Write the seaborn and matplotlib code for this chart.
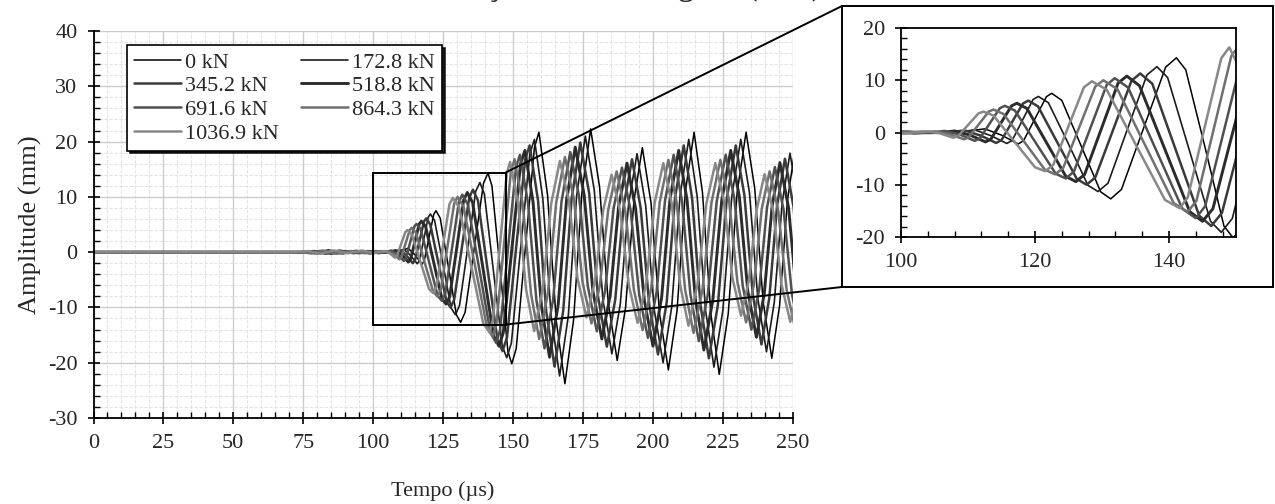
import pandas as pd
import matplotlib
matplotlib.use("Agg")
import matplotlib.pyplot as plt
from matplotlib.patches import Rectangle, ConnectionPatch
from matplotlib.ticker import MultipleLocator
import seaborn as sns

# Sinais (tempo em µs, amplitude em mm)
tempo_0 = [0, 78, 83, 87, 92, 97, 102, 106, 109, 112.5, 115.0, 117.5, 118.3, 120.0, 121.7, 122.5,
           124.0, 126.9, 129.8, 131.3, 132.9, 136.2, 139.5, 141.1, 142.5, 145.4, 148.2, 149.6,
           151.2, 154.45, 157.7, 159.3,
           162.4, 165.5, 168.6, 171.7, 174.7, 177.8, 181.0, 184.1, 187.3, 190.3, 193.3, 196.3,
           199.4, 202.5, 205.6, 208.7, 211.7, 214.8, 217.8, 220.8, 223.8, 227.0, 230.2, 233.4,
           236.5, 239.5, 242.6, 245.4, 248.2, 251.0, 254.1, 257.1]
amp_0 = [0, 0, 0.2, -0.2, 0.2, -0.1, 0.1, -0.1, 0.1, 0.7, -0.5, -2.2, -1.55, 2.65, 6.85, 7.5,
         6.15, -2.6, -11.35, -12.7, -10.9, 0.8, 12.5, 14.3, 12.0, -2.95, -17.9, -20.2,
         -17.4, 0.75, 18.9, 21.7,
         10.3, -12.4, -23.8, -12.3, 10.8, 22.3, 11.8, -9.1, -19.6, -10.0, 9.3, 18.9,
         8.9, -11.3, -21.3, -10.6, 11.0, 21.7, 10.8, -11.2, -22.1, -11.2, 10.8, 21.7,
         11.5, -9.0, -19.2, -9.6, 9.4, 19.0, 8.9, -11.0]

tempo_1 = [0, 77, 82, 86, 91, 96, 101, 105, 108, 111.0, 113.4, 115.8, 116.6, 118.15, 119.7, 120.5,
           122.0, 125.0, 127.9, 129.4, 130.9, 133.8, 136.7, 138.2, 139.8, 143.0, 146.2, 147.8,
           149.45, 152.75, 156.05, 157.7,
           160.7, 163.7, 166.7, 169.8, 172.8, 175.9, 179.1, 182.2, 185.4, 188.4, 191.4, 194.4,
           197.5, 200.6, 203.7, 206.8, 209.8, 212.9, 215.9, 218.9, 221.9, 225.1, 228.3, 231.5,
           234.6, 237.6, 240.7, 243.5, 246.3, 249.1, 252.2, 255.2]
amp_1 = [0, 0, -0.2, 0.2, -0.2, 0.2, -0.1, 0.1, 0.0, 0.5, -0.6, -2.1, -1.5, 2.4, 6.3, 6.9,
         5.7, -2.2, -10.1, -11.3, -9.7, 0.65, 11.0, 12.6, 10.5, -3.25, -17.0, -19.1,
         -16.45, 0.65, 17.75, 20.4,
         9.7, -11.7, -22.4, -11.6, 10.2, 21.0, 11.2, -8.6, -18.4, -9.4, 8.8, 17.8,
         8.4, -10.6, -20.0, -9.9, 10.3, 20.4, 10.1, -10.5, -20.8, -10.5, 10.1, 20.4,
         10.8, -8.4, -18.0, -9.0, 8.9, 17.9, 8.7, -9.8]

tempo_2 = [0, 76, 81, 85, 90, 95, 100, 104, 107, 109.5, 111.9, 114.2, 115.0, 116.6, 118.2, 119.0,
           120.45, 123.35, 126.25, 127.7, 129.0, 131.7, 134.4, 135.7, 137.5, 141.0, 144.5, 146.3,
           147.9, 151.15, 154.4, 156.0,
           159.0, 161.9, 164.9, 168.0, 171.0, 174.1, 177.3, 180.4, 183.6, 186.6, 189.6, 192.6,
           195.7, 198.8, 201.9, 205.0, 208.0, 211.1, 214.1, 217.1, 220.1, 223.3, 226.5, 229.7,
           232.8, 235.8, 238.9, 241.7, 244.5, 247.3, 250.4, 253.4]
amp_2 = [0, 0, 0.2, -0.3, 0.2, -0.2, 0.2, -0.1, 0.0, 0.4, -0.6, -2.0, -1.45, 2.05, 5.55, 6.1,
         5.0, -1.95, -8.9, -10.0, -8.6, 0.65, 9.9, 11.3, 9.35, -3.3, -15.9, -17.9,
         -15.4, 0.7, 16.8, 19.3,
         9.3, -10.7, -20.7, -10.6, 9.7, 19.8, 10.6, -7.9, -17.1, -8.6, 8.3, 16.8,
         8.0, -9.7, -18.5, -9.1, 9.9, 19.3, 9.7, -9.6, -19.2, -9.6, 9.7, 19.3,
         10.3, -7.7, -16.7, -8.3, 8.5, 16.9, 8.1, -9.5]

tempo_3 = [0, 75, 80, 84, 89, 94, 99, 103, 106, 108.0, 110.3, 112.6, 113.4, 114.95, 116.5, 117.3,
           118.8, 121.7, 124.6, 126.1, 127.4, 129.9, 132.4, 133.7, 135.6, 139.35, 143.1, 145.0,
           146.55, 149.65, 152.75, 154.3,
           157.2, 160.2, 163.1, 166.2, 169.2, 172.3, 175.5, 178.6, 181.8, 184.8, 187.8, 190.8,
           193.9, 197.0, 200.1, 203.2, 206.2, 209.3, 212.3, 215.3, 218.3, 221.5, 224.7, 227.9,
           231.0, 234.0, 237.1, 239.9, 242.7, 245.5, 248.6, 251.6]
amp_3 = [0, 0, -0.2, 0.3, -0.2, 0.2, -0.2, 0.1, 0.0, 0.3, -0.5, -1.8, -1.3, 1.9, 5.1, 5.6,
         4.6, -1.9, -8.4, -9.4, -8.05, 0.7, 9.45, 10.8, 8.95, -3.1, -15.15, -17.0,
         -14.6, 0.7, 16.0, 18.4,
         9.1, -9.7, -19.0, -9.5, 9.5, 19.0, 10.3, -7.0, -15.7, -7.8, 8.2, 16.1,
         7.8, -8.7, -17.0, -8.2, 9.6, 18.4, 9.4, -8.7, -17.7, -8.7, 9.4, 18.4,
         10.0, -7.0, -15.4, -7.5, 8.3, 16.2, 8.0, -8.6]

tempo_4 = [0, 74, 79, 83, 88, 93, 98, 102, 104.5, 106.5, 108.8, 111.0, 111.75, 113.25, 114.75, 115.5,
           117.0, 120.05, 123.1, 124.6, 125.8, 128.25, 130.7, 131.9, 133.9, 137.95, 142.0, 144.0,
           145.4, 148.25, 151.1, 152.5,
           155.4, 158.4, 161.3, 164.4, 167.4, 170.5, 173.7, 176.8, 180.0, 183.0, 186.0, 189.0,
           192.1, 195.2, 198.3, 201.4, 204.4, 207.5, 210.5, 213.5, 216.5, 219.7, 222.9, 226.1,
           229.2, 232.2, 235.3, 238.1, 240.9, 243.7, 246.8, 249.8, 252.9]
amp_4 = [0, 0, 0.2, -0.3, 0.3, -0.2, 0.2, -0.2, 0.0, 0.3, -0.4, -1.6, -1.15, 1.75, 4.65, 5.1,
         4.2, -1.85, -7.9, -8.8, -7.5, 0.8, 9.1, 10.4, 8.6, -3.0, -14.6, -16.4,
         -14.1, 0.6, 15.3, 17.6,
         8.9, -8.7, -17.4, -8.5, 9.2, 18.1, 10.0, -6.2, -14.3, -6.9, 7.9, 15.3,
         7.6, -7.8, -15.5, -7.2, 9.3, 17.6, 9.2, -7.7, -16.1, -7.7, 9.2, 17.6,
         9.7, -6.1, -14.0, -6.7, 8.1, 15.4, 7.7, -7.6, -15.3]

tempo_5 = [0, 73, 78, 82, 87, 92, 97, 101, 103, 105.0, 107.2, 109.4, 110.1, 111.6, 113.1, 113.8,
           115.3, 118.4, 121.5, 123.0, 124.2, 126.6, 129.0, 130.2, 132.3, 136.5, 140.7, 142.8,
           144.1, 146.7, 149.3, 150.6,
           153.5, 156.5, 159.4, 162.5, 165.5, 168.6, 171.8, 174.9, 178.1, 181.1, 184.1, 187.1,
           190.2, 193.3, 196.4, 199.5, 202.5, 205.6, 208.6, 211.6, 214.6, 217.8, 221.0, 224.2,
           227.3, 230.3, 233.4, 236.2, 239.0, 241.8, 244.9, 247.9, 251.0]
amp_5 = [0, 0, -0.2, 0.3, -0.3, 0.2, -0.2, 0.2, 0.0, 0.2, -0.3, -1.3, -0.9, 1.55, 4.0, 4.4,
         3.55, -1.8, -7.15, -8.0, -6.8, 1.0, 8.8, 10.0, 8.3, -2.6, -13.5, -15.2,
         -13.05, 0.8, 14.65, 16.8,
         8.7, -7.6, -15.7, -7.5, 9.0, 17.2, 9.7, -5.4, -12.9, -6.0, 7.7, 14.6,
         7.4, -6.9, -14.1, -6.4, 9.0, 16.7, 8.9, -6.8, -14.6, -6.8, 8.9, 16.7,
         9.4, -5.4, -12.7, -5.9, 7.8, 14.6, 7.5, -6.8, -13.9]

tempo_6 = [0, 72, 77, 81, 86, 91, 96, 100, 102, 104.0, 105.9, 107.8, 108.55, 110.05, 111.55, 112.3,
           113.8, 116.9, 120.0, 121.5, 122.7, 125.0, 127.3, 128.5, 130.7, 135.05, 139.4, 141.6,
           142.8, 145.3, 147.8, 149.0,
           151.9, 154.7, 157.6, 160.7, 163.7, 166.8, 170.0, 173.1, 176.3, 179.3, 182.3, 185.3,
           188.4, 191.5, 194.6, 197.7, 200.7, 203.8, 206.8, 209.8, 212.8, 216.0, 219.2, 222.4,
           225.5, 228.5, 231.6, 234.4, 237.2, 240.0, 243.1, 246.1, 249.2, 252.3]
amp_6 = [0, 0, 0.2, -0.3, 0.3, -0.2, 0.3, -0.2, 0.0, 0.2, -0.2, -1.0, -0.65, 1.5, 3.65, 4.0,
         3.25, -1.7, -6.65, -7.4, -6.25, 1.2, 8.65, 9.8, 8.2, -2.35, -12.9, -14.5,
         -12.4, 0.9, 14.2, 16.3,
         8.7, -6.7, -14.3, -6.6, 8.8, 16.5, 9.4, -4.7, -11.8, -5.4, 7.6, 14.0,
         7.3, -6.1, -12.8, -5.6, 8.9, 16.1, 8.8, -5.9, -13.3, -5.9, 8.8, 16.1,
         9.2, -4.6, -11.5, -5.1, 7.7, 14.1, 7.4, -5.9, -12.6, -6.0]

cargas = ["0 kN", "172.8 kN", "345.2 kN", "518.8 kN", "691.6 kN", "864.3 kN", "1036.9 kN"]
tempos = [tempo_0, tempo_1, tempo_2, tempo_3, tempo_4, tempo_5, tempo_6]
amplitudes = [amp_0, amp_1, amp_2, amp_3, amp_4, amp_5, amp_6]

cores = ["#000000", "#1c1c1c", "#3a3a3a", "#2b2b2b", "#505050", "#707070", "#888888"]
larguras = [1.1, 1.2, 1.8, 2.1, 1.8, 1.8, 1.8]

# tabela longa para o seaborn
frames = []
for nome, t, a in zip(cargas, tempos, amplitudes):
    frames.append(pd.DataFrame({"carga": nome, "tempo": t, "amplitude": a}))
df = pd.concat(frames, ignore_index=True)

sns.set_theme(style="white")
plt.rcParams["font.family"] = ["Liberation Serif", "DejaVu Serif"]
plt.rcParams["axes.unicode_minus"] = False

W, H = 1275, 504
fig = plt.figure(figsize=(W / 100, H / 100), dpi=100)
fig.patch.set_facecolor("white")


def desenha_sinais(eixo):
    for i, nome in enumerate(cargas):
        sns.lineplot(data=df[df["carga"] == nome], x="tempo", y="amplitude", color=cores[i],
                     lw=larguras[i], sort=False, estimator=None, legend=False, ax=eixo)


def estilo_ticks(eixo):
    eixo.tick_params(which="major", direction="inout", length=9, width=1.2, color="black",
                     labelsize=16, pad=7, left=True, bottom=True)
    eixo.tick_params(which="minor", direction="in", length=4.5, width=1.0, color="black",
                     left=True, bottom=True)


# eixo principal
ax = fig.add_axes([93.5 / W, 86 / H, 699 / W, 387 / H])
desenha_sinais(ax)
ax.set_xlim(0, 250)
ax.set_ylim(-30, 40)
ax.xaxis.set_major_locator(MultipleLocator(25))
ax.xaxis.set_minor_locator(MultipleLocator(5))
ax.yaxis.set_major_locator(MultipleLocator(10))
ax.yaxis.set_minor_locator(MultipleLocator(2))
ax.set_axisbelow(True)
ax.grid(which="major", color="#cccccc", lw=1.0)
ax.grid(which="minor", color="#e3e3e3", lw=0.8, ls=(0, (3, 1.5)))
for s in ["top", "right"]:
    ax.spines[s].set_visible(False)
for s in ["left", "bottom"]:
    ax.spines[s].set_color("black")
    ax.spines[s].set_linewidth(1.3)
estilo_ticks(ax)
ax.set_xlabel("Tempo (µs)", fontsize=16)
ax.set_ylabel("Amplitude (mm)", fontsize=19)
ax.xaxis.set_label_coords(0.5, -0.163)
ax.yaxis.set_label_coords(-0.074, 0.5)

# legenda (preenchida por linhas)
linhas = ax.get_lines()[:7]
ordem = [0, 2, 4, 6, 1, 3, 5]
leg = ax.legend([linhas[i] for i in ordem], [cargas[i] for i in ordem], loc="upper left",
                bbox_to_anchor=(0.048, 0.964), ncol=2, frameon=True, fancybox=False,
                shadow={"color": "black", "alpha": 0.85}, edgecolor="black", framealpha=1,
                fontsize=16, handlelength=2.1, handletextpad=0.2, labelspacing=0.14,
                columnspacing=1.0, borderpad=0.32, borderaxespad=0)
leg.get_frame().set_linewidth(1.2)

# retângulo da área ampliada
ax.add_patch(Rectangle((100, -13.1), 47.4, 27.5, fill=False, ec="black", lw=1.4, zorder=5))

# caixa do detalhe
fig.add_artist(Rectangle((842 / W, (H - 287) / H), (1273 - 842) / W, (287 - 6) / H,
                         transform=fig.transFigure, fill=False, ec="black", lw=1.4))
for pa, pb in [((147.4, 14.4), (842 / W, (H - 6) / H)), ((147.4, -13.1), (842 / W, (H - 287) / H))]:
    con = ConnectionPatch(xyA=pa, coordsA=ax.transData, xyB=pb, coordsB=fig.transFigure,
                          color="black", lw=1.4, zorder=6)
    fig.add_artist(con)

# detalhe 100-150 µs
axin = fig.add_axes([901 / W, (H - 237) / H, 335 / W, 209 / H])
desenha_sinais(axin)
axin.set_xlim(100, 150)
axin.set_ylim(-20, 20)
axin.xaxis.set_major_locator(MultipleLocator(20))
axin.xaxis.set_minor_locator(MultipleLocator(4))
axin.yaxis.set_major_locator(MultipleLocator(10))
axin.yaxis.set_minor_locator(MultipleLocator(2))
axin.set_xlabel("")
axin.set_ylabel("")
axin.grid(False)
axin.set_facecolor("white")
for s in axin.spines.values():
    s.set_color("black")
    s.set_linewidth(1.3)
estilo_ticks(axin)

# título cortado no topo da figura (no original só aparecem os traços de baixo)
fig.text(593 / W, 1 - 2 / H, "Deformação da ancoragem (mm)", ha="center", va="bottom",
         fontsize=25)

fig.savefig("out.png", dpi=100)
